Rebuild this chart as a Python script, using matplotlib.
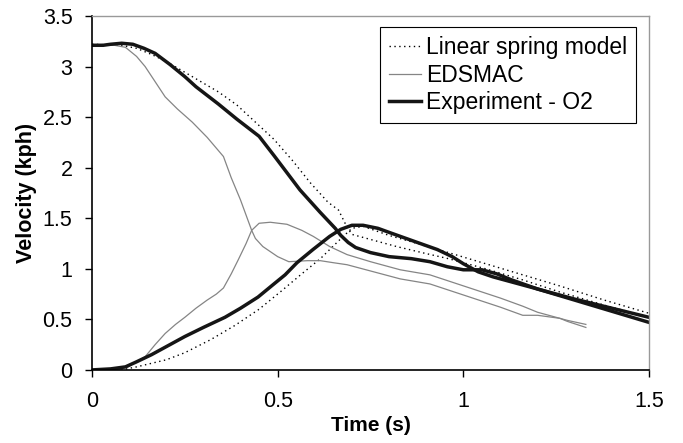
import matplotlib
matplotlib.use("Agg")
import matplotlib.pyplot as plt

plt.rcParams['font.family'] = ['Liberation Sans', 'DejaVu Sans']

# Linear spring model (dotted) - vehicle slowing down / vehicle speeding up
t_lin_dec = [0, 0.08, 0.12, 0.16, 0.2, 0.27, 0.34, 0.39, 0.44, 0.49, 0.54, 0.588,
             0.635, 0.664, 0.687, 0.70, 0.76, 0.82, 0.90, 0.96, 1.06, 1.16, 1.26, 1.38, 1.5]
v_lin_dec = [3.22, 3.21, 3.18, 3.12, 3.05, 2.90, 2.75, 2.62, 2.45, 2.28, 2.07, 1.85,
             1.66, 1.58, 1.41, 1.34, 1.28, 1.22, 1.15, 1.10, 1.00, 0.89, 0.77, 0.64, 0.52]
t_lin_acc = [0, 0.08, 0.12, 0.2, 0.25, 0.32, 0.385, 0.45, 0.51, 0.565, 0.615, 0.668,
             0.70, 0.73, 0.80, 0.876, 0.96, 1.06, 1.16, 1.26, 1.38, 1.5]
v_lin_acc = [0, 0.0, 0.03, 0.10, 0.17, 0.30, 0.44, 0.60, 0.78, 0.95, 1.10, 1.29,
             1.40, 1.42, 1.33, 1.25, 1.16, 1.05, 0.94, 0.83, 0.69, 0.56]

# EDSMAC (thin grey)
t_eds_dec = [0, 0.06, 0.09, 0.12, 0.143, 0.17, 0.197, 0.23, 0.27, 0.31, 0.354, 0.375,
             0.40, 0.43, 0.44, 0.46, 0.50, 0.53, 0.58, 0.615, 0.65, 0.687, 0.83, 0.91,
             1.10, 1.16, 1.20, 1.26, 1.28, 1.33]
v_eds_dec = [3.21, 3.21, 3.19, 3.10, 3.00, 2.85, 2.70, 2.58, 2.45, 2.30, 2.11, 1.90,
             1.68, 1.38, 1.30, 1.22, 1.12, 1.07, 1.08, 1.08, 1.06, 1.04, 0.90, 0.85,
             0.62, 0.54, 0.54, 0.51, 0.48, 0.42]
t_eds_acc = [0, 0.07, 0.097, 0.143, 0.17, 0.197, 0.225, 0.25, 0.28, 0.31, 0.335, 0.354,
             0.375, 0.394, 0.415, 0.43, 0.45, 0.48, 0.525, 0.565, 0.596, 0.64, 0.687,
             0.75, 0.83, 0.91, 1.10, 1.16, 1.20, 1.26, 1.28, 1.33]
v_eds_acc = [0, 0.0, 0.03, 0.13, 0.25, 0.36, 0.45, 0.52, 0.61, 0.69, 0.75, 0.81,
             0.95, 1.09, 1.25, 1.38, 1.45, 1.46, 1.44, 1.38, 1.32, 1.22, 1.14,
             1.07, 0.99, 0.94, 0.71, 0.63, 0.57, 0.51, 0.49, 0.45]

# Experiment - O2 (thick black)
t_exp_dec = [0, 0.03, 0.05, 0.08, 0.11, 0.14, 0.17, 0.21, 0.25, 0.28, 0.34, 0.39,
             0.45, 0.49, 0.525, 0.56, 0.614, 0.655, 0.67, 0.69, 0.71, 0.75, 0.80,
             0.86, 0.91, 0.957, 1.0, 1.05, 1.09, 1.13, 1.2, 1.3, 1.4, 1.5]
v_exp_dec = [3.21, 3.21, 3.22, 3.23, 3.22, 3.18, 3.13, 3.02, 2.90, 2.80, 2.63, 2.48,
             2.31, 2.12, 1.95, 1.78, 1.56, 1.40, 1.33, 1.26, 1.21, 1.16, 1.12,
             1.10, 1.07, 1.02, 0.99, 0.99, 0.95, 0.89, 0.80, 0.69, 0.58, 0.47]
t_exp_acc = [0, 0.05, 0.09, 0.12, 0.16, 0.21, 0.25, 0.30, 0.358, 0.40, 0.447, 0.49,
             0.52, 0.552, 0.595, 0.64, 0.67, 0.70, 0.73, 0.77, 0.80, 0.884, 0.93,
             0.97, 1.0, 1.04, 1.08, 1.12, 1.2, 1.3, 1.4, 1.5]
v_exp_acc = [0, 0.01, 0.03, 0.08, 0.15, 0.25, 0.33, 0.42, 0.52, 0.61, 0.72, 0.85,
             0.94, 1.06, 1.19, 1.32, 1.39, 1.43, 1.43, 1.40, 1.36, 1.25, 1.19,
             1.12, 1.05, 0.97, 0.92, 0.88, 0.80, 0.70, 0.61, 0.52]

x_ticks = [0, 0.5, 1, 1.5]
x_tick_labels = ['0', '0.5', '1', '1.5']
y_ticks = [0, 0.5, 1, 1.5, 2, 2.5, 3, 3.5]
y_tick_labels = ['0', '0.5', '1', '1.5', '2', '2.5', '3', '3.5']

fig = plt.figure(figsize=(6.83, 4.43), dpi=100)
ax = fig.add_axes([0.1347, 0.165, 0.8155, 0.799])

ax.plot(t_lin_dec, v_lin_dec, color='black', lw=1.0, linestyle=(0, (1, 2.5)), label='Linear spring model')
ax.plot(t_lin_acc, v_lin_acc, color='black', lw=1.0, linestyle=(0, (1, 2.5)))
ax.plot(t_eds_dec, v_eds_dec, color='#858585', lw=0.9, label='EDSMAC')
ax.plot(t_eds_acc, v_eds_acc, color='#858585', lw=0.9)
ax.plot(t_exp_dec, v_exp_dec, color='#151515', lw=2.5, label='Experiment - O2')
ax.plot(t_exp_acc, v_exp_acc, color='#151515', lw=2.5)

ax.set_xlim(0, 1.5)
ax.set_ylim(0, 3.5)
ax.set_xticks(x_ticks)
ax.set_xticklabels(x_tick_labels)
ax.set_yticks(y_ticks)
ax.set_yticklabels(y_tick_labels)
ax.tick_params(axis='x', direction='out', length=5, width=1, pad=10, labelsize=15.5)
ax.tick_params(axis='y', direction='out', length=5, width=1, pad=9, labelsize=15.5)

for side in ['left', 'bottom']:
    ax.spines[side].set_color('black')
    ax.spines[side].set_linewidth(1.2)
for side in ['top', 'right']:
    ax.spines[side].set_color('#999999')
    ax.spines[side].set_linewidth(1.0)

ax.set_xlabel('Time (s)', fontsize=15, fontweight='bold', labelpad=3)
ax.set_ylabel('Velocity (kph)', fontsize=15.5, fontweight='bold', labelpad=4)

leg = ax.legend(loc='upper right', bbox_to_anchor=(0.977, 0.968), fontsize=16.5, frameon=True,
                fancybox=False, edgecolor='black', framealpha=1, handlelength=1.4,
                handletextpad=0.22, labelspacing=0.18, borderpad=0.4, borderaxespad=0)
leg.get_frame().set_linewidth(0.8)

fig.savefig('out.png', dpi=100)
